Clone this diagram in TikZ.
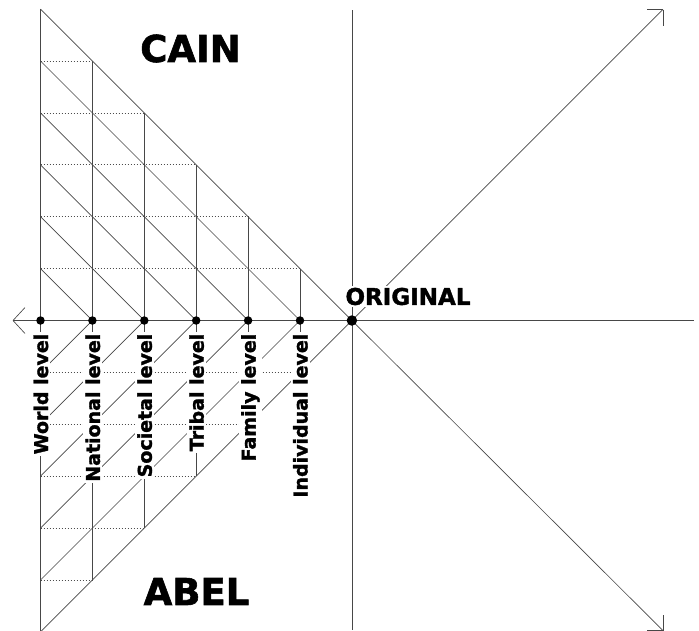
\documentclass[tikz,border=0pt]{standalone}
\usepackage{fontspec}
\setmainfont{DejaVu Sans}[BoldFeatures={FakeBold=1.6}]
\tikzset{
  thinline/.style={draw=black!72, line width=0.65pt},
  dotrow/.style={draw=black!70, line width=0.7pt, dash pattern=on 0.7pt off 2.3pt},
  leveldot/.style={circle, fill=black, inner sep=0pt, minimum size=8.5pt},
  origindot/.style={circle, fill=black, inner sep=0pt, minimum size=10.5pt},
  levellabel/.style={rotate=90, anchor=base east, fill=white, inner xsep=1.5pt, inner ysep=2pt, font=\fontsize{19}{19}\selectfont\bfseries},
  bigtitle/.style={font=\fontsize{37}{37}\selectfont\bfseries, inner sep=0pt},
  midtitle/.style={font=\fontsize{23}{23}\selectfont\bfseries, inner sep=2pt, fill=white},
}
\begin{document}
\begin{tikzpicture}[x=1pt, y=-1pt]
\fill[white] (0,0) rectangle (699,630);
\useasboundingbox (0,0) rectangle (699,630);
\def\u{51.9}
\def\xo{40.5}
\def\ya{320.5}
% grid coordinates
\foreach \i in {0,...,6}{
  \foreach \j in {-6,...,6}{
    \coordinate (g-\i-\j) at ({\xo+\i*\u},{\ya-\j*\u});
  }
}
% left vertical and outer diagonals
\draw[thinline] (g-0-6) -- (g-0--6);
\draw[thinline] (g-0-6) -- (g-6-0) -- (g-0--6);
% inner verticals
\foreach \i in {1,...,5}{
  \pgfmathtruncatemacro\k{6-\i}
  \draw[thinline] (g-\i-\k) -- (g-\i--\k);
}
% dotted rows and inner diagonals
\foreach \j in {1,...,5}{
  \pgfmathtruncatemacro\k{6-\j}
  \draw[dotrow] (g-0-\j) -- (g-\k-\j);
  \draw[dotrow] (g-0--\j) -- (g-\k--\j);
  \draw[thinline] (g-0-\j) -- (g-\j-0);
  \draw[thinline] (g-0--\j) -- (g-\j-0);
}
% horizontal axis with left arrow
\coordinate (axisL) at (13,\ya);
\coordinate (axisR) at (694,\ya);
\draw[thinline] (axisL) -- (axisR);
\draw[thinline] (axisL) -- ++(12,-13);
\draw[thinline] (axisL) -- ++(12,13);
% vertical through origin
\coordinate (vtop) at ({\xo+6*\u},10);
\coordinate (vbot) at ({\xo+6*\u},630);
\draw[thinline] (vtop) -- (vbot);
% diagonals to the right with open arrowheads
\coordinate (ne) at ({\xo+6*\u+311},{\ya-311});
\coordinate (se) at ({\xo+6*\u+311},{\ya+310});
\draw[thinline] (g-6-0) -- (ne);
\draw[thinline] (ne) -- ++(-16,0);
\draw[thinline] (ne) -- ++(0,16);
\draw[thinline] (g-6-0) -- (se);
\draw[thinline] (se) -- ++(-16,0);
\draw[thinline] (se) -- ++(0,-16);
% level labels
\foreach \i/\t in {0/World level,1/National level,2/Societal level,3/Tribal level,4/Family level,5/Individual level}{
  \node[levellabel] (lab-\i) at ({\xo+\i*\u+7.5},332) {\t};
}
% dots
\foreach \i in {0,...,5}{
  \node[leveldot] (d-\i) at (g-\i-0) {};
}
\node[origindot] (orig) at (g-6-0) {};
% titles
\node[bigtitle] (cain) at (190.5,48.5) {CAIN};
\node[bigtitle] (abel) at (196.5,591.5) {ABEL};
\node[midtitle] (original) at (408,296.5) {ORIGINAL};
\end{tikzpicture}
\end{document}
